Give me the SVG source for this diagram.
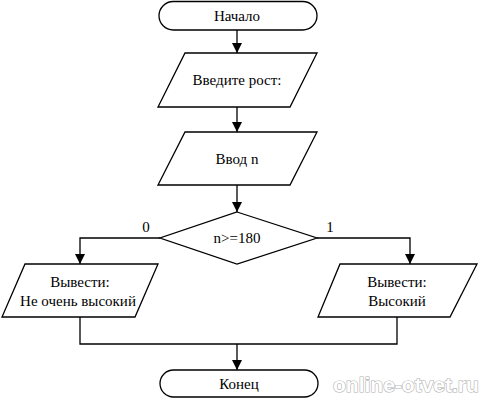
<svg xmlns="http://www.w3.org/2000/svg" width="479" height="400" viewBox="0 0 479 400">
<style>
.s{fill:#fff;stroke:#000;stroke-width:1.3}
text.t{font-family:'Liberation Serif','Times New Roman',serif;font-size:15px;fill:#000;text-anchor:middle;dominant-baseline:central}
.c{fill:none;stroke:#000;stroke-width:1.3}
.wm{font-family:'Liberation Sans',Arial,sans-serif;font-weight:bold;font-size:21px;fill:#fff;stroke:#b0b0b0;stroke-width:1.2;paint-order:stroke}
</style>
<defs>
<marker id="a" viewBox="0 0 10 10" refX="10" refY="5" markerWidth="10" markerHeight="10" markerUnits="userSpaceOnUse" orient="auto">
<path d="M0,0 L10,5 L0,10 Z" fill="#000"/>
</marker>
</defs>
<rect width="479" height="400" fill="#fff"/>
<g id="connectors">
<line class="c" x1="237" y1="30" x2="237" y2="53" marker-end="url(#a)"/>
<line class="c" x1="237" y1="107" x2="237" y2="132" marker-end="url(#a)"/>
<line class="c" x1="237" y1="185" x2="237" y2="212" marker-end="url(#a)"/>
<polyline class="c" points="160,238 80,238 80,264" marker-end="url(#a)"/>
<polyline class="c" points="317,238 410,238 410,264" marker-end="url(#a)"/>
<polyline class="c" points="80,317 80,344 397,344 397,317"/>
<line class="c" x1="237" y1="344" x2="237" y2="370" marker-end="url(#a)"/>
<text class="t" x="146" y="227" font-family="Liberation Serif, serif">0</text>
<text class="t" x="330" y="227" font-family="Liberation Serif, serif">1</text>
</g>
<g id="start">
<rect class="s" x="159" y="1.5" width="158" height="28.5" rx="14.25"/>
<text class="t" x="237" y="16" font-family="Liberation Serif, serif">Начало</text>
</g>
<g id="prompt">
<polygon class="s" points="185,53 317,53 290,107 158,107"/>
<text class="t" x="237" y="80" font-family="Liberation Serif, serif">Введите рост:</text>
</g>
<g id="input">
<polygon class="s" points="185,132 317,132 290,185 158,185"/>
<text class="t" x="237" y="159" font-family="Liberation Serif, serif">Ввод n</text>
</g>
<g id="decision">
<polygon class="s" points="237,212 317,238 237,264 160,238"/>
<text class="t" x="237" y="238" font-family="Liberation Serif, serif">n&gt;=180</text>
</g>
<g id="outLow">
<polygon class="s" points="25,264 158,264 135,317 2,317"/>
<text class="t" x="80" y="282" font-family="Liberation Serif, serif">Вывести:</text>
<text class="t" x="78" y="301" font-family="Liberation Serif, serif">Не очень высокий</text>
</g>
<g id="outHigh">
<polygon class="s" points="340,264 477,264 450,317 318,317"/>
<text class="t" x="397" y="282" font-family="Liberation Serif, serif">Вывести:</text>
<text class="t" x="397" y="301" font-family="Liberation Serif, serif">Высокий</text>
</g>
<g id="end">
<rect class="s" x="160" y="370" width="158" height="27" rx="13.5"/>
<text class="t" x="239" y="384" font-family="Liberation Serif, serif">Конец</text>
</g>
<text class="wm" x="333" y="392">online-otvet.ru</text>
</svg>
